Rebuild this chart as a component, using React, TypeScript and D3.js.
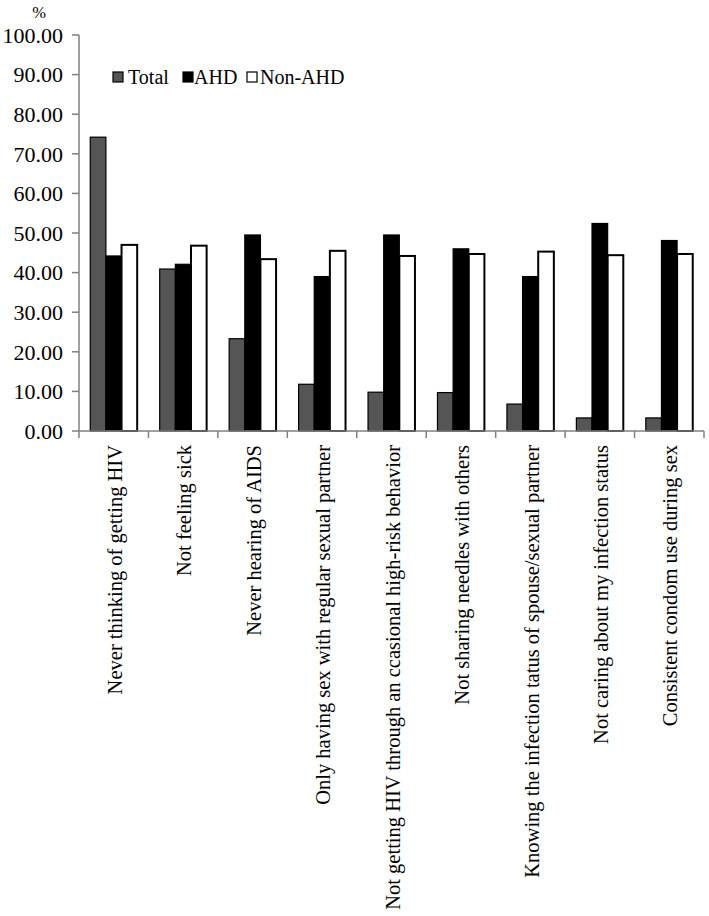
import React from "react";
import * as d3 from "d3";

const categories = [
  "Never thinking of getting HIV",
  "Not feeling sick",
  "Never hearing of AIDS",
  "Only having sex with regular sexual partner",
  "Not getting HIV through an ccasional high-risk behavior",
  "Not sharing needles with others",
  "Knowing the infection tatus of spouse/sexual partner",
  "Not caring about my infection status",
  "Consistent condom use during sex",
];
const seriesNames = ["Total", "AHD", "Non-AHD"];
const totalValues = [74.2, 40.9, 23.3, 11.8, 9.8, 9.7, 6.8, 3.3, 3.3];
const ahdValues = [44.2, 42.1, 49.5, 39.0, 49.5, 46.0, 39.0, 52.4, 48.1];
const nonAhdValues = [47.0, 46.8, 43.4, 45.5, 44.2, 44.7, 45.3, 44.4, 44.7];
const yTicks = [0, 10, 20, 30, 40, 50, 60, 70, 80, 90, 100];

const seriesValues = [totalValues, ahdValues, nonAhdValues];
const fills = ["#555555", "#000000", "#ffffff"];
const FONT = "Liberation Serif, Times New Roman, DejaVu Serif, serif";
const txt = { fontFamily: FONT };

export default function App() {
  const W = 709, H = 916;
  const left = 79, right = 704, top = 35, bottom = 431;
  const y = d3.scaleLinear().domain([0, 100]).range([bottom, top]);
  const x = d3.scaleBand().domain(categories).range([left, right]).padding(0);
  const bw = x.bandwidth();
  const xi = d3.scaleBand().domain(seriesNames).range([0, bw]).paddingInner(0).paddingOuter(0.72);
  const boundaries = d3.range(categories.length + 1).map((i) => left + i * bw);

  return (
    <svg width={W} height={H} style={{ position: "absolute", left: 0, top: 0, background: "#fff" }}>
      {/* y axis */}
      <line x1={left} x2={left} y1={top} y2={bottom} stroke="#808080" strokeWidth={1.5} />
      {yTicks.map((t) => (
        <g key={t}>
          <line x1={left - 7} x2={left} y1={y(t)} y2={y(t)} stroke="#808080" strokeWidth={1.5} />
          <text x={63} y={y(t)} dy="0.35em" textAnchor="end" fontSize={22} fill="#000" style={txt}>
            {t.toFixed(2)}
          </text>
        </g>
      ))}
      <text x={39} y={12} dy="0.35em" textAnchor="middle" fontSize={16.5} fill="#000" style={txt}>%</text>

      {/* bars */}
      {categories.map((c, ci) => (
        <g key={c} transform={`translate(${x(c)},0)`}>
          {seriesNames.map((s, si) => {
            const v = seriesValues[si][ci];
            return (
              <rect
                key={s}
                x={xi(s)!}
                y={y(v)}
                width={xi.bandwidth()}
                height={bottom - y(v)}
                fill={fills[si]}
                stroke="#000"
                strokeWidth={si === 2 ? 2 : 1.2}
              />
            );
          })}
        </g>
      ))}

      {/* x axis */}
      <line x1={left} x2={right} y1={bottom} y2={bottom} stroke="#808080" strokeWidth={1.5} />
      {boundaries.map((bx, i) => (
        <line key={i} x1={bx} x2={bx} y1={bottom} y2={bottom + 7} stroke="#808080" strokeWidth={1.5} />
      ))}

      {/* category labels */}
      {categories.map((c) => (
        <text
          key={c}
          transform={`translate(${x(c)! + bw / 2},445) rotate(-90)`}
          dy="0.4em"
          textAnchor="end"
          fontSize={20.5}
          fill="#000"
          style={txt}
        >
          {c}
        </text>
      ))}

      {/* legend */}
      {[
        { name: "Total", sx: 113, tx: 128 },
        { name: "AHD", sx: 183, tx: 194 },
        { name: "Non-AHD", sx: 247, tx: 260 },
      ].map((l, i) => (
        <g key={l.name}>
          <rect x={l.sx} y={72} width={10} height={10} fill={fills[i]} stroke="#000" strokeWidth={1.2} />
          <text x={l.tx} y={77} dy="0.35em" fontSize={20} fill="#000" style={txt}>{l.name}</text>
        </g>
      ))}
    </svg>
  );
}
